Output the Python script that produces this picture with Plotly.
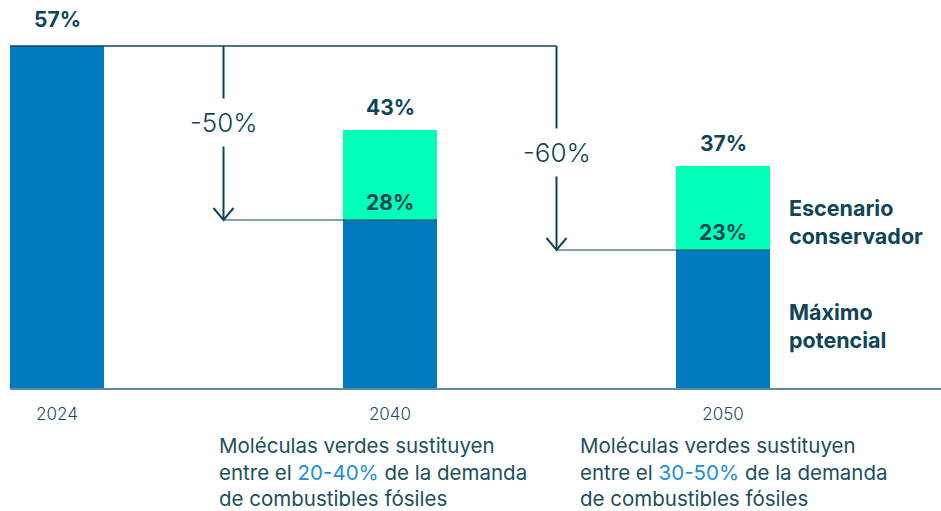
import plotly.graph_objects as go

# ---- data ----
years = ["2024", "2040", "2050"]
maximo = [57, 28, 23]          # Máximo potencial (blue)
conservador = [57, 43, 37]     # Escenario conservador total
reductions = ["-50%", "-60%"]
ranges = ["20-40%", "30-50%"]

BLUE = "#007bbf"
GREEN = "#00ffb8"
DARK = "#0f4557"
TXT = "#1a4f60"
LINK = "#1e8fd4"
FONT = "Inter"

xs = list(range(len(years)))
extra = [c - m for c, m in zip(conservador, maximo)]

W, H = 941, 511
ML, MR, MT, MB = 10, 0, 0, 123
px_per_x = 333.0
px_per_y = 6.0
bw = 94 / px_per_x
x0 = -bw / 2
xr = [x0, x0 + (W - ML - MR) / px_per_x]
yr = [0, (H - MT - MB) / px_per_y]

fig = go.Figure()
fig.add_trace(go.Bar(x=xs, y=maximo, width=bw, marker=dict(color=BLUE, line_width=0),
                     hoverinfo="skip", showlegend=False))
fig.add_trace(go.Bar(x=xs, y=extra, width=bw, marker=dict(color=GREEN, line_width=0),
                     hoverinfo="skip", showlegend=False))

shapes = []
ann = []

# totals above bars
for i, (x, tot) in enumerate(zip(xs, conservador)):
    ann.append(dict(x=x, y=tot, text=f"<b>{tot}%</b>", showarrow=False, yanchor="bottom",
                    yshift=12 if i == 0 else 8, font=dict(size=21, color=DARK, family=FONT)))
# inner labels
for x, m, e in zip(xs, maximo, extra):
    if e > 0:
        ann.append(dict(x=x, y=m, text=f"<b>{m}%</b>", showarrow=False, yanchor="bottom",
                        yshift=3, font=dict(size=21, color=DARK, family=FONT)))

# connectors
top = maximo[0]
mids = [0.5, 1.5]
shapes.append(dict(type="line", xref="x", yref="y", x0=x0, x1=mids[-1], y0=top, y1=top,
                   line=dict(color=DARK, width=1.5), layer="above"))
dx = 10 / px_per_x
dy = 12 / px_per_y
kpos = [0.44, 0.52]
for j, (xm, lab) in enumerate(zip(mids, reductions)):
    target = maximo[j + 1]
    shapes.append(dict(type="line", xref="x", yref="y", x0=xm, x1=xm, y0=top, y1=target,
                       line=dict(color=DARK, width=2), layer="above"))
    shapes.append(dict(type="path", xref="x", yref="y",
                       path=f"M {xm-dx},{target+dy} L {xm},{target} L {xm+dx},{target+dy}",
                       line=dict(color=DARK, width=2), layer="above"))
    shapes.append(dict(type="line", xref="x", yref="y", x0=xm, x1=xs[j + 1] + bw / 2,
                       y0=target, y1=target, line=dict(color=DARK, width=1.2), layer="above"))
    ann.append(dict(x=xm, y=top - kpos[j] * (top - target), text=lab, showarrow=False,
                    bgcolor="white", borderpad=8,
                    font=dict(size=26, color=DARK, family=FONT, weight=300)))

# legend-like labels
ann.append(dict(x=xs[2] + bw / 2, y=(maximo[2] + conservador[2]) / 2 - 1.5, xanchor="left",
                xshift=17, yshift=-5, align="left", showarrow=False,
                text="<b>Escenario<br>conservador</b>", font=dict(size=21.5, color=DARK, family=FONT)))
ann.append(dict(x=xs[2] + bw / 2, y=maximo[2] / 2 - 0.5, xanchor="left",
                xshift=17, yshift=-4, align="left", showarrow=False,
                text="<b>Máximo<br>potencial</b>", font=dict(size=21.5, color=DARK, family=FONT)))

# descriptions
desc_shift = [-172, -144]
for x, r, s in zip(xs[1:], ranges, desc_shift):
    ann.append(dict(x=x, y=0, xref="x", yref="paper", xanchor="left", yanchor="top",
                    xshift=s, yshift=-44, align="left", showarrow=False, borderpad=0,
                    text=("Moléculas verdes sustituyen<br>entre el "
                          f"<span style='color:{LINK}'>{r}</span> de la demanda<br>"
                          "de combustibles fósiles"),
                    font=dict(size=20.5, color=TXT, family=FONT)))

fig.update_layout(
    width=W, height=H, margin=dict(l=ML, r=MR, t=MT, b=MB),
    barmode="stack", bargap=0, plot_bgcolor="white", paper_bgcolor="white",
    shapes=shapes, annotations=ann,
    xaxis=dict(range=xr, tickvals=xs, ticktext=years, showgrid=False, zeroline=False,
               showline=True, linecolor="#5f8b9a", linewidth=1.5, ticks="",
               ticklabelstandoff=10, tickfont=dict(size=17, color=TXT, family=FONT, weight=300),
               fixedrange=True),
    yaxis=dict(range=yr, visible=False, showgrid=False, zeroline=False, fixedrange=True),
)

fig.write_html("out.html", config={"displayModeBar": False},
               post_script="document.body.style.margin='0';document.body.style.overflow='hidden';")
